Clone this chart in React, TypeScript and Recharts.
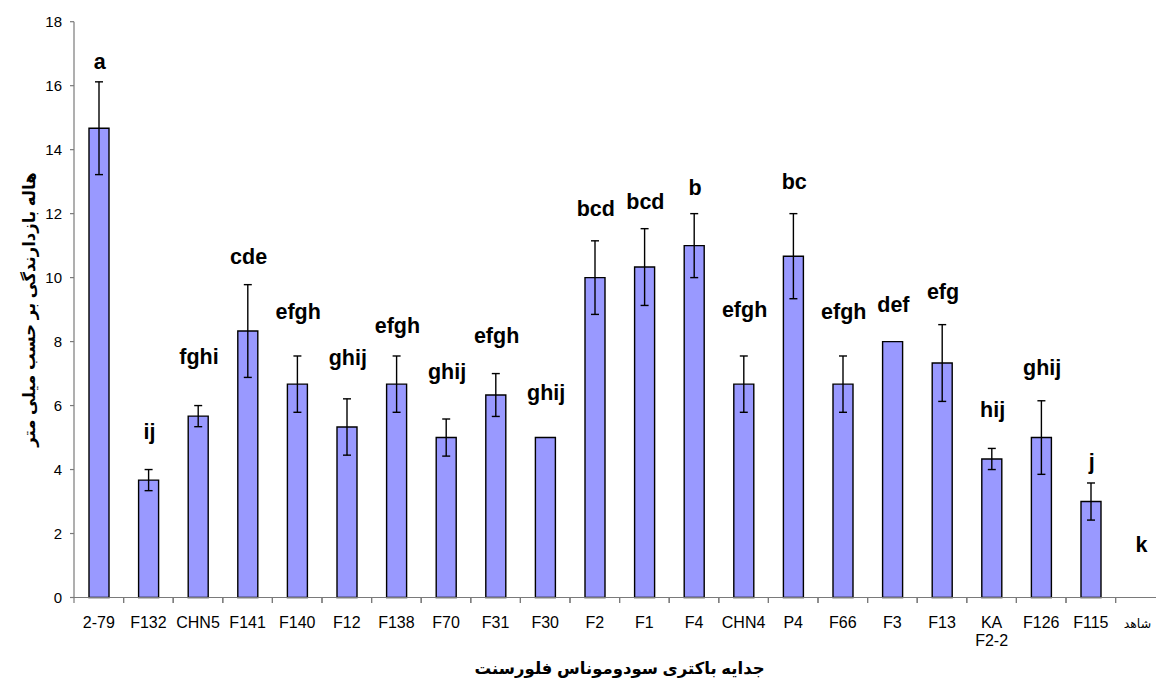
import React from 'react';
import { ComposedChart, Bar, Line, XAxis, YAxis, ErrorBar } from 'recharts';

const isolates = ['2-79', 'F132', 'CHN5', 'F141', 'F140', 'F12', 'F138', 'F70', 'F31', 'F30', 'F2', 'F1', 'F4', 'CHN4', 'P4', 'F66', 'F3', 'F13', 'KA F2-2', 'F126', 'F115', 'شاهد'];
const halo = [14.67, 3.67, 5.67, 8.33, 6.67, 5.33, 6.67, 5.0, 6.33, 5.0, 10.0, 10.33, 11.0, 6.67, 10.67, 6.67, 8.0, 7.33, 4.33, 5.0, 3.0, 0];
const errors = [1.45, 0.33, 0.33, 1.45, 0.88, 0.88, 0.88, 0.58, 0.67, 0, 1.15, 1.2, 1.0, 0.88, 1.33, 0.88, 0, 1.2, 0.33, 1.15, 0.58, 0];
const groups = ['a', 'ij', 'fghi', 'cde', 'efgh', 'ghij', 'efgh', 'ghij', 'efgh', 'ghij', 'bcd', 'bcd', 'b', 'efgh', 'bc', 'efgh', 'def', 'efg', 'hij', 'ghij', 'j', 'k'];
const groupLevels = [16.74, 5.18, 7.53, 10.64, 8.91, 7.5, 8.48, 7.06, 8.17, 6.4, 12.13, 12.35, 12.79, 8.98, 13.0, 8.93, 9.14, 9.56, 5.86, 7.16, 4.23, 1.64];
const yTicks = [0, 2, 4, 6, 8, 10, 12, 14, 16, 18];
const yTitle = 'هاله بازدارندگی بر حسب میلی متر';
const xTitle = 'جدایه باکتری سودوموناس فلورسنت';

const data = isolates.map((name, i) => ({ name, halo: halo[i], err: errors[i], lvl: groupLevels[i], grp: groups[i] }));

const FONT = 'Arial, "Liberation Sans", "DejaVu Sans", sans-serif';
const AXIS_Y = 597.5;
const AXIS_COLOR = '#7a7a7a';

const XTick = (props: any) => {
  const { x, payload } = props;
  const half = payload && typeof payload.offset === 'number' && payload.offset > 0 ? payload.offset : 24.8;
  const label = String(payload.value);
  const lines = label.split(' ');
  const isArabic = /[\u0600-\u06FF]/.test(label);
  return (
    <g>
      <line x1={x - half} x2={x - half} y1={AXIS_Y} y2={AXIS_Y + 5.5} stroke={AXIS_COLOR} strokeWidth={1.2} />
      <line x1={x + half} x2={x + half} y1={AXIS_Y} y2={AXIS_Y + 5.5} stroke={AXIS_COLOR} strokeWidth={1.2} />
      {lines.map((l, i) => (
        <text
          key={i}
          x={isArabic ? x - 3 : x}
          y={627.5 + i * 18.5}
          textAnchor="middle"
          fontFamily={FONT}
          fontSize={isArabic ? 12.5 : 16}
          fill="#000"
        >
          {l}
        </text>
      ))}
    </g>
  );
};

const LetterDot = (props: any) => {
  const { cx, cy, index, payload } = props;
  if (cx == null || cy == null) return <g key={`l${index}`} />;
  return (
    <text key={`l${index}`} x={cx + 1} y={cy} textAnchor="middle" dominantBaseline="central" fontFamily={FONT} fontWeight="bold" fontSize={21.5} fill="#000">
      {payload.grp}
    </text>
  );
};

export default function App() {
  return (
    <div style={{ position: 'fixed', left: 0, top: 0, width: 1156, height: 683, overflow: 'hidden', background: '#fff' }}>
      <ComposedChart
        width={1200}
        height={683}
        data={data}
        margin={{ top: 21.7, right: 34.8, left: 0, bottom: 55.5 }}
        barCategoryGap={0}
      >
        <XAxis
          dataKey="name"
          height={30}
          interval={0}
          tickLine={false}
          axisLine={{ stroke: AXIS_COLOR, strokeWidth: 1.2 }}
          tick={<XTick />}
          label={{
            content: (p: any) => {
              const vb = p.viewBox || { x: 74, width: 1091 };
              return (
                <text x={vb.x + vb.width / 2} y={674} textAnchor="middle" fontFamily={FONT} fontWeight="bold" fontSize={16.5} fill="#000">
                  {xTitle}
                </text>
              );
            },
          }}
        />
        <YAxis
          width={74}
          domain={[0, 18]}
          ticks={yTicks}
          interval={0}
          tickSize={4}
          tickMargin={8}
          axisLine={{ stroke: AXIS_COLOR, strokeWidth: 1.2 }}
          tickLine={{ stroke: AXIS_COLOR, strokeWidth: 1.2 }}
          tick={{ fontFamily: FONT, fontSize: 15, fill: '#000' }}
          label={{
            content: (p: any) => {
              const vb = p.viewBox || { y: 21.7, height: 575.8 };
              const cy = vb.y + vb.height / 2;
              return (
                <text x={29} y={cy} transform={`rotate(-90 29 ${cy})`} textAnchor="middle" dominantBaseline="central" fontFamily={FONT} fontWeight="bold" fontSize={16.5} fill="#000">
                  {yTitle}
                </text>
              );
            },
          }}
        />
        <Bar dataKey="halo" barSize={20} fill="#9999FF" stroke="#000" strokeWidth={1.4} isAnimationActive={false}>
          <ErrorBar dataKey="err" width={4} stroke="#000" strokeWidth={1.4} direction="y" />
        </Bar>
        <Line dataKey="lvl" stroke="none" dot={LetterDot} activeDot={false} isAnimationActive={false} legendType="none" />
      </ComposedChart>
    </div>
  );
}
